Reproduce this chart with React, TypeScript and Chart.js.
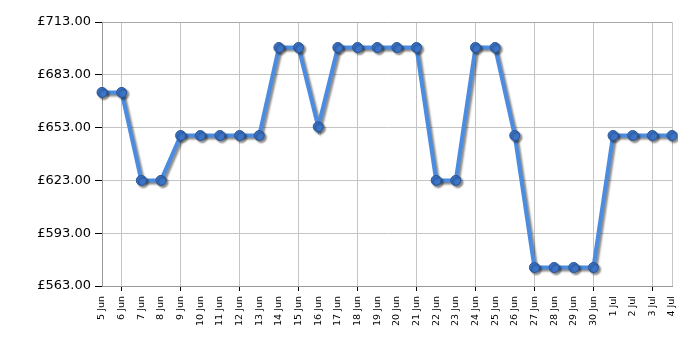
import React, { useEffect, useRef } from "react";
import { Chart, registerables } from "chart.js";

Chart.register(...registerables);

const dates = [
  "5 Jun", "6 Jun", "7 Jun", "8 Jun", "9 Jun", "10 Jun", "11 Jun", "12 Jun", "13 Jun", "14 Jun",
  "15 Jun", "16 Jun", "17 Jun", "18 Jun", "19 Jun", "20 Jun", "21 Jun", "22 Jun", "23 Jun", "24 Jun",
  "25 Jun", "26 Jun", "27 Jun", "28 Jun", "29 Jun", "30 Jun", "1 Jul", "2 Jul", "3 Jul", "4 Jul",
];

const prices = [
  673, 673, 623, 623, 648.5, 648.5, 648.5, 648.5, 648.5, 698.5,
  698.5, 653.5, 698.5, 698.5, 698.5, 698.5, 698.5, 623, 623, 698.5,
  698.5, 648.5, 573.5, 573.5, 573.5, 573.5, 648.5, 648.5, 648.5, 648.5,
];

const yMin = 563;
const yMax = 713;
const yStep = 30;

const shadowPlugin = {
  id: "lineShadow",
  beforeDatasetDraw(chart: any) {
    const ctx = chart.ctx;
    ctx.save();
    ctx.shadowColor = "rgba(0,0,0,0.45)";
    ctx.shadowBlur = 2;
    ctx.shadowOffsetX = 2;
    ctx.shadowOffsetY = 2;
  },
  afterDatasetDraw(chart: any) {
    chart.ctx.restore();
  },
};

export default function App() {
  const ref = useRef<HTMLCanvasElement | null>(null);

  useEffect(() => {
    document.body.style.margin = "0";
    const canvas = ref.current;
    if (!canvas) return;
    const chart = new Chart(canvas, {
      type: "line",
      data: {
        labels: dates,
        datasets: [
          {
            data: prices,
            borderColor: "#4c8ce0",
            borderWidth: 4,
            backgroundColor: "#3b74c8",
            pointBackgroundColor: "#3b74c8",
            pointBorderColor: "#2a5596",
            pointBorderWidth: 1,
            pointRadius: 5,
            tension: 0,
            fill: false,
          },
        ],
      },
      plugins: [shadowPlugin],
      options: {
        animation: false,
        responsive: false,
        maintainAspectRatio: false,
        layout: { padding: { top: 22, right: 28, left: 0, bottom: 0 } },
        plugins: {
          legend: { display: false },
          tooltip: { enabled: false },
        },
        scales: {
          x: {
            offset: false,
            afterFit(scale: any) {
              scale.height = 64;
            },
            border: { display: true, color: "#999999", width: 1 },
            grid: {
              color: (ctx: any) =>
                ctx.index % 3 === 1 || ctx.index === dates.length - 1 ? "#c4c4c4" : "rgba(0,0,0,0)",
              tickColor: (ctx: any) => (ctx.index % 3 === 1 ? "#000000" : "rgba(0,0,0,0)"),
              tickLength: 5,
              drawTicks: true,
            },
            ticks: {
              autoSkip: false,
              minRotation: 90,
              maxRotation: 90,
              padding: 5,
              color: "#000000",
              font: { family: "DejaVu Sans", size: 9.5 },
            },
          },
          y: {
            min: yMin,
            max: yMax,
            afterFit(scale: any) {
              scale.width = 102;
            },
            border: { display: true, color: "#999999", width: 1 },
            grid: {
              color: (ctx: any) => (ctx.index === 5 ? "#a8a8a8" : "#c4c4c4"),
              tickColor: "#000000",
              tickLength: 7,
            },
            ticks: {
              stepSize: yStep,
              padding: 4,
              color: "#000000",
              font: { family: "DejaVu Sans", size: 13 },
              callback: (v: any) => "£" + Number(v).toFixed(2),
            },
          },
        },
      },
    });
    return () => chart.destroy();
  }, []);

  return (
    <div style={{ width: 700, height: 350 }}>
      <canvas ref={ref} width={700} height={350} style={{ display: "block" }} />
    </div>
  );
}
